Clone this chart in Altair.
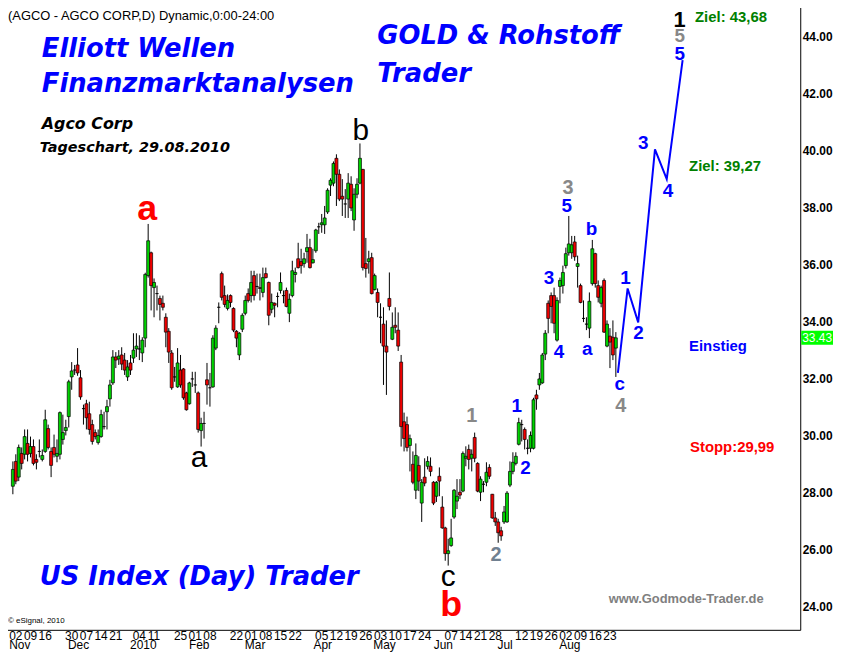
import altair as alt
import pandas as pd

# ---------------- data (trading-day index 0 = 02 Nov 2009) ----------------
first_index = -1
opens = [28.23, 29.10, 28.55, 29.38, 29.35, 29.73, 29.38, 29.62, 29.17, 29.45, 29.17, 29.45, 30.25, 29.45, 29.59, 29.28,
         29.35, 29.87, 30.18, 30.67, 32.06, 32.30, 32.48, 32.03, 30.95, 31.12, 30.77, 30.39, 30.11, 29.76, 29.97, 30.32,
         30.84, 31.29, 31.85, 32.76, 32.69, 32.83, 32.65, 32.06, 32.55, 32.72, 33.04, 33.04, 32.90, 33.42, 35.61, 36.41,
         35.19, 34.98, 34.81, 34.64, 34.15, 33.66, 32.90, 32.06, 31.71, 32.30, 32.34, 31.50, 31.12, 31.99, 31.78, 31.50,
         30.18, 30.43, 31.96, 31.68, 31.71, 33.07, 34.50, 35.68, 34.91, 34.46, 34.91, 34.46, 33.66, 32.83, 33.73, 34.29,
         34.98, 34.91, 35.61, 35.23, 35.19, 35.02, 35.68, 35.37, 34.43, 34.64, 34.88, 35.09, 34.91, 35.09, 34.29, 34.91,
         35.65, 36.20, 36.10, 36.03, 36.45, 36.59, 36.06, 36.48, 37.32, 37.39, 37.39, 37.84, 38.78, 38.85, 39.72, 39.16,
         38.39, 38.12, 38.29, 38.81, 37.56, 38.46, 38.85, 39.33, 36.03, 36.10, 36.24, 35.12, 35.02, 34.15, 33.91, 33.14,
         34.81, 33.38, 33.87, 33.70, 32.58, 30.49, 30.39, 29.66, 29.00, 28.09, 28.96, 27.64, 28.55, 28.93, 28.93, 28.37,
         27.88, 28.58, 27.50, 26.77, 25.87, 26.15, 27.15, 27.71, 28.02, 28.06, 29.21, 29.52, 29.21, 29.94, 29.03, 28.02,
         28.30, 28.37, 28.89, 27.95, 27.12, 26.98, 26.67, 26.98, 26.98, 28.27, 28.75, 29.03, 29.70, 30.39, 30.22, 29.56,
         29.56, 29.56, 31.43, 31.78, 31.85, 32.86, 34.64, 34.91, 34.91, 33.35, 35.23, 35.26, 35.96, 36.41, 36.41, 36.79,
         35.93, 35.26, 34.11, 33.91, 33.77, 35.33, 36.38, 35.26, 34.64, 35.44, 33.14, 33.49, 33.45, 33.07]
highs = [29.10, 29.35, 29.69, 29.59, 30.22, 30.22, 29.97, 29.87, 29.35, 29.87, 29.52, 30.91, 30.39, 29.59, 30.04, 29.87,
         30.85, 30.74, 30.56, 31.96, 32.58, 32.48, 33.07, 32.30, 31.09, 31.26, 31.19, 30.56, 30.22, 30.22, 30.91, 30.84,
         31.26, 31.96, 33.00, 32.93, 33.00, 33.10, 32.90, 32.65, 32.83, 33.59, 33.59, 33.52, 33.45, 35.71, 37.42, 36.45,
         35.51, 35.26, 34.91, 34.91, 34.29, 33.77, 33.00, 32.41, 33.07, 32.83, 32.37, 31.54, 31.89, 32.24, 32.24, 31.55,
         30.63, 30.84, 32.55, 32.20, 33.52, 33.87, 34.67, 35.75, 35.26, 34.95, 34.95, 34.50, 33.70, 33.63, 34.29, 34.91,
         35.16, 35.78, 35.78, 35.68, 35.68, 35.89, 35.89, 35.40, 34.98, 34.67, 35.02, 35.72, 35.09, 35.19, 34.98, 36.13,
         35.89, 36.76, 36.55, 36.41, 37.07, 36.90, 36.55, 37.25, 37.46, 37.77, 38.05, 38.67, 39.02, 39.61, 39.86, 39.33,
         38.99, 38.64, 39.20, 39.09, 38.67, 39.02, 40.24, 39.35, 36.93, 36.48, 36.41, 35.68, 35.16, 34.64, 34.50, 34.04,
         35.72, 34.32, 34.50, 34.32, 32.83, 30.81, 30.67, 30.04, 29.45, 29.73, 29.28, 28.48, 29.21, 29.28, 29.24, 28.41,
         28.41, 28.89, 27.88, 26.81, 26.39, 27.09, 28.13, 28.48, 28.48, 29.45, 29.63, 29.69, 29.52, 30.11, 29.07, 28.58,
         28.41, 29.07, 29.00, 27.96, 27.33, 27.09, 26.81, 27.54, 28.06, 29.10, 29.42, 29.42, 30.63, 30.56, 30.29, 29.87,
         30.15, 31.33, 31.61, 32.20, 32.90, 33.70, 34.74, 35.02, 35.19, 34.85, 35.54, 35.96, 36.59, 37.70, 37.00, 37.00,
         36.31, 35.33, 34.74, 34.15, 35.02, 36.86, 36.41, 35.44, 35.26, 35.51, 34.04, 33.77, 34.04, 33.63]
lows = [27.95, 28.30, 28.41, 28.82, 29.17, 29.10, 29.24, 28.96, 28.82, 29.24, 29.10, 29.40, 29.52, 28.55, 29.24, 29.07,
        29.17, 29.69, 30.01, 30.29, 31.61, 32.13, 32.10, 31.26, 30.39, 30.22, 30.04, 29.69, 29.87, 29.69, 29.93, 30.22,
        30.22, 31.02, 31.78, 32.37, 32.48, 32.30, 32.13, 31.92, 32.13, 32.55, 32.76, 32.65, 32.58, 33.10, 35.54, 34.39,
        34.15, 34.39, 34.04, 34.39, 33.10, 32.55, 31.61, 31.89, 31.68, 31.68, 31.26, 30.88, 31.09, 31.71, 31.50, 30.11,
        29.62, 29.90, 31.09, 31.02, 31.68, 33.00, 33.94, 34.74, 34.50, 34.39, 34.50, 33.63, 33.10, 32.65, 33.63, 34.22,
        34.67, 34.67, 34.74, 34.98, 34.74, 34.85, 35.51, 33.87, 34.29, 34.15, 34.50, 34.98, 34.64, 34.50, 33.98, 34.85,
        35.37, 35.86, 35.68, 35.89, 36.06, 35.86, 36.03, 36.41, 37.07, 37.11, 37.07, 37.77, 38.40, 38.74, 38.05, 38.22,
        37.70, 37.63, 37.63, 37.87, 37.18, 38.32, 38.81, 35.79, 35.54, 35.68, 34.95, 35.09, 34.15, 33.24, 31.78, 31.43,
        34.39, 33.35, 33.59, 32.97, 29.62, 29.45, 29.45, 28.75, 28.30, 27.78, 28.06, 26.98, 28.23, 28.82, 28.58, 27.57,
        27.68, 27.88, 26.74, 25.62, 25.45, 26.11, 27.09, 27.43, 27.78, 28.02, 28.93, 28.82, 28.75, 29.07, 28.02, 27.71,
        28.02, 28.23, 28.48, 27.09, 26.84, 26.25, 26.32, 26.91, 26.95, 28.20, 28.65, 28.96, 29.66, 29.80, 29.52, 29.35,
        29.42, 29.52, 30.91, 31.61, 31.82, 32.65, 33.59, 33.94, 33.59, 33.30, 34.64, 34.98, 35.86, 36.31, 36.20, 36.13,
        35.19, 34.64, 33.98, 33.70, 33.42, 35.26, 35.19, 34.67, 34.50, 33.60, 33.10, 32.37, 32.65, 32.06]
closes = [28.82, 28.41, 29.59, 29.03, 29.97, 29.35, 29.62, 29.03, 29.07, 29.45, 29.31, 30.56, 29.59, 28.96, 29.35, 29.38,
          30.81, 30.11, 30.29, 31.89, 32.27, 32.30, 32.20, 31.36, 30.95, 30.63, 30.22, 29.80, 29.97, 30.01, 30.74, 30.32,
          31.02, 31.78, 32.76, 32.65, 32.79, 32.51, 32.30, 32.41, 32.30, 33.00, 33.14, 33.04, 33.35, 35.65, 36.83, 35.26,
          35.37, 34.98, 34.60, 34.50, 33.63, 32.93, 31.68, 32.06, 32.55, 31.78, 31.33, 30.91, 31.85, 31.99, 31.78, 30.22,
          30.43, 30.43, 31.78, 31.68, 33.42, 33.77, 34.50, 34.85, 34.60, 34.74, 34.67, 33.70, 33.42, 33.59, 34.22, 34.74,
          34.74, 35.37, 34.91, 35.23, 35.16, 35.54, 35.54, 34.22, 34.67, 34.57, 34.88, 35.37, 34.91, 34.53, 34.78, 35.78,
          35.72, 35.89, 35.96, 36.20, 36.59, 35.89, 36.17, 37.21, 37.32, 37.46, 37.63, 38.60, 38.95, 39.54, 39.16, 38.29,
          38.29, 38.12, 38.85, 37.98, 38.46, 38.81, 39.72, 35.89, 35.86, 36.20, 34.98, 35.61, 34.67, 34.15, 33.14, 32.93,
          34.53, 33.80, 33.80, 33.14, 30.32, 29.90, 29.59, 29.90, 28.37, 29.31, 28.41, 28.37, 28.34, 29.10, 28.75, 27.64,
          28.37, 28.41, 26.77, 25.87, 25.97, 26.42, 28.09, 27.88, 27.92, 29.38, 29.28, 29.17, 29.35, 29.21, 28.06, 28.48,
          28.30, 28.72, 28.58, 27.12, 26.98, 26.60, 26.49, 27.33, 27.99, 28.75, 29.07, 29.28, 30.46, 30.39, 29.87, 29.56,
          30.01, 31.26, 31.29, 31.99, 32.83, 33.59, 34.11, 34.53, 33.94, 34.74, 35.44, 35.72, 36.38, 36.72, 36.69, 36.27,
          36.03, 34.67, 34.11, 33.91, 34.71, 36.55, 35.33, 34.85, 35.19, 33.63, 33.91, 33.28, 32.83, 33.43]

# x-axis labels (trading-day index of each labelled date)
day_labels = ["02", "09", "16", "30", "07", "14", "21", "04", "11", "25", "01", "08", "22", "01", "08", "15", "22",
              "05", "12", "19", "26", "03", "10", "17", "24", "07", "14", "21", "28", "12", "19", "26", "02", "09",
              "16", "23"]
day_index = [0, 5, 10, 19, 24, 29, 34, 42, 47, 56, 61, 66, 75, 80, 85, 90, 95, 104, 109, 114, 119, 124, 129, 134,
             139, 148, 153, 158, 163, 172, 177, 182, 187, 192, 197, 202]
month_labels = ["Nov", "Dec", "2010", "Feb", "Mar", "Apr", "May", "Jun", "Jul", "Aug"]
month_index = [0, 20, 42, 61, 80, 103, 124, 144, 165, 187]
price_ticks = [24, 26, 28, 30, 32, 34, 36, 38, 40, 42, 44]
last_price = 33.43

# Elliott wave labels
wave_text = ["a", "a", "b", "c", "b", "1", "2", "1", "2", "3", "4", "3", "5", "b", "a", "c", "4",
             "1", "2", "3", "4", "1", "5", "5"]
wave_i = [44.7, 62.3, 117.3, 147.0, 148.0, 155.0, 163.3, 170.3, 173.3, 181.3, 184.7, 187.7, 187.3, 195.7, 194.3,
          205.3, 205.7, 207.3, 211.7, 213.3, 221.7, 225.7, 225.7, 225.7]
wave_p = [37.95, 29.22, 40.66, 25.04, 24.06, 30.70, 25.83, 31.05, 28.86, 35.51, 32.93, 38.67, 38.05, 37.25, 33.05,
          31.80, 31.05, 35.54, 33.59, 40.24, 38.57, 44.55, 44.00, 43.37]
wave_color = ["#FF0000", "#000000", "#000000", "#000000", "#FF0000", "#888888", "#708090", "#0000FF", "#0000FF",
              "#0000FF", "#0000FF", "#888888", "#0000FF", "#0000FF", "#0000FF", "#0000FF", "#888888",
              "#0000FF", "#0000FF", "#0000FF", "#0000FF", "#000000", "#888888", "#0000FF"]
wave_size = [36, 30, 30, 30, 36, 20, 20, 19, 19, 19, 19, 20, 19, 19, 19, 19, 20, 19, 19, 19, 19, 22, 19, 19]
wave_bold = [1, 0, 0, 0, 1, 1, 1, 1, 1, 1, 1, 1, 1, 1, 1, 1, 1, 1, 1, 1, 1, 1, 1, 1]

# projected path
proj_i = [204.7, 208.0, 211.6, 217.3, 221.3, 226.7]
proj_p = [32.20, 35.16, 33.97, 40.03, 38.99, 43.16]

# ---------------- frames ----------------
n = len(opens)
df = pd.DataFrame({
    "i": list(range(first_index, first_index + n)),
    "open": opens, "high": highs, "low": lows, "close": closes,
})
df["dir"] = ["up" if c > o else ("down" if c < o else "flat") for o, c in zip(df["open"], df["close"])]

waves = pd.DataFrame({"i": wave_i, "p": wave_p, "t": wave_text, "c": wave_color, "s": wave_size, "b": wave_bold})
proj = pd.DataFrame({"i": proj_i, "p": proj_p})
days = pd.DataFrame({"i": day_index, "t": day_labels})
months = pd.DataFrame({"i": month_index, "t": month_labels})
lastdf = pd.DataFrame({"p": [last_price - 0.245], "p2": [last_price + 0.245], "m": [last_price],
                       "t": [f"{last_price:.2f}"]})

xs = alt.Scale(domain=[-11 / 3, 265], nice=False, zero=False)
ys = alt.Scale(domain=[23.2, 45.1826], nice=False, zero=False)
xaxis = alt.Axis(labels=False, ticks=False, grid=False, domainColor="black", domainWidth=1, title="")
yaxis = alt.Axis(orient="right", values=price_ticks, format=".2f", ticks=False, grid=False,
                 domainColor="black", domainWidth=1, labelFont="Liberation Sans", labelFontWeight="bold",
                 labelFontSize=12, labelColor="black", labelPadding=2, title="")


def X(f):
    return alt.X(f, type="quantitative", scale=xs, axis=xaxis, title="")


def Y(f):
    return alt.Y(f, type="quantitative", scale=ys, axis=yaxis, title="")


wicks = alt.Chart(df).mark_rule(color="black", strokeWidth=1, clip=True).encode(
    x=X("i"), y=Y("low"), y2="high")
bodies = alt.Chart(df).mark_bar(size=3, stroke="black", strokeWidth=0.7, clip=True).encode(
    x=X("i"), y=Y("open"), y2="close",
    fill=alt.Fill("dir:N", scale=alt.Scale(domain=["up", "down", "flat"],
                                           range=["#00D200", "#EE0000", "#000000"]), legend=None))
path = alt.Chart(proj).mark_line(color="#0000FF", strokeWidth=2).encode(x=X("i"), y=Y("p"))

wave_bold_layer = alt.Chart(waves[waves["b"] == 1]).mark_text(
    font="Liberation Sans", fontWeight="bold", align="center", baseline="middle").encode(
    x=X("i"), y=Y("p"), text="t:N", color=alt.Color("c:N", scale=None), size=alt.Size("s:Q", scale=None))
wave_norm_layer = alt.Chart(waves[waves["b"] == 0]).mark_text(
    font="Liberation Sans", align="center", baseline="middle").encode(
    x=X("i"), y=Y("p"), text="t:N", color=alt.Color("c:N", scale=None), size=alt.Size("s:Q", scale=None))

day_layer = alt.Chart(days).mark_text(font="Liberation Sans", fontSize=12, color="black",
                                      align="center", baseline="alphabetic").encode(
    x=X("i"), y=alt.value(642), text="t:N")
month_layer = alt.Chart(months).mark_text(font="Liberation Sans", fontSize=12, color="black",
                                          align="center", baseline="alphabetic", dx=4).encode(
    x=X("i"), y=alt.value(651.5), text="t:N")

last_box = alt.Chart(lastdf).mark_rect(color="#00FF00").encode(
    x=alt.value(807), x2=alt.value(841), y=Y("p"), y2="p2")
last_txt = alt.Chart(lastdf).mark_text(font="Liberation Sans", fontSize=12, color="white",
                                       align="left", baseline="middle").encode(
    x=alt.value(808), y=Y("m"), text="t:N")


def label(txt, x, y, size, color="black", font="Liberation Sans", weight="normal", style="normal"):
    return alt.Chart(pd.DataFrame({"t": [txt]})).mark_text(
        font=font, fontSize=size, fontWeight=weight, fontStyle=style, color=color,
        align="left", baseline="alphabetic").encode(x=alt.value(x), y=alt.value(y), text="t:N")


texts = [
    label("(AGCO - AGCO CORP,D) Dynamic,0:00-24:00", 8, 18, 13),
    label("Elliott Wellen", 42, 55, 26, "#0000FF", "DejaVu Sans", "bold", "italic"),
    label("Finanzmarktanalysen", 42, 90, 26, "#0000FF", "DejaVu Sans", "bold", "italic"),
    label("GOLD & Rohstoff", 380, 42, 26, "#0000FF", "DejaVu Sans", "bold", "italic"),
    label("Trader", 380, 80, 26, "#0000FF", "DejaVu Sans", "bold", "italic"),
    label("Agco Corp", 42, 128, 16, "black", "DejaVu Sans", "bold", "italic"),
    label("Tageschart, 29.08.2010", 40, 151, 14.5, "black", "DejaVu Sans", "bold", "italic"),
    label("US Index (Day) Trader", 40, 587, 26, "#0000FF", "DejaVu Sans", "bold", "italic"),
    label("© eSignal, 2010", 8, 625, 8),
    label("www.Godmode-Trader.de", 613, 605, 13, "#808080", weight="bold"),
    label("Ziel: 43,68", 700, 20, 15, "#008000", weight="bold"),
    label("Ziel: 39,27", 694, 170, 15, "#008000", weight="bold"),
    label("Einstieg", 694, 351, 15, "#0000FF", weight="bold"),
    label("Stopp:29,99", 695, 453, 15, "#FF0000", weight="bold"),
]

# Plot area spans page pixels 0..806 x 0..632; the negative padding cancels the page's 8px margin,
# and the small bottom padding keeps the page from scrolling.
chart = alt.layer(
    wicks, bodies, path, wave_bold_layer, wave_norm_layer, day_layer, month_layer, last_box, last_txt, *texts
).properties(
    width=806, height=632,
    autosize=alt.AutoSizeParams(type="none"),
    padding={"left": -8, "top": -8, "right": 33, "bottom": 20},
    background="white",
).configure_view(strokeWidth=0)

chart.save("out.html", embed_options={"renderer": "svg", "actions": False})
